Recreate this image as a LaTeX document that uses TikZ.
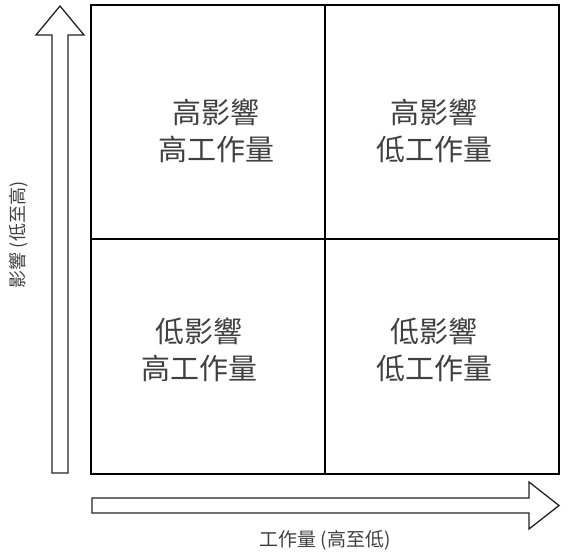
\documentclass[tikz,border=0pt]{standalone}
\usepackage{fontspec}
\newfontfamily\cjk{Noto Sans CJK TC}
\usepackage{tikz}
\usetikzlibrary{positioning}
\usetikzlibrary{calc}
\definecolor{textgray}{HTML}{404040}
\definecolor{arrowgray}{HTML}{222222}

\begin{document}
\begin{tikzpicture}[
    x=1pt, y=-1pt,
    quad text/.style={
        font=\cjk\fontsize{29}{37}\selectfont,
        text=textgray,
        align=center
    },
    axis label/.style={
        font=\cjk\fontsize{18}{22}\selectfont,
        text=textgray
    },
    grid line/.style={line width=1.4pt, draw=black},
    fat arrow/.style={line width=1.3pt, draw=arrowgray, line join=miter}
  ]

  \useasboundingbox (0,0) rectangle (568,558);

  \coordinate (grid_tl) at (91, 5);
  \coordinate (grid_br) at (559, 474);

  \coordinate (mid_top) at (325, 5);
  \coordinate (mid_bot) at (325, 474);
  \coordinate (mid_left) at (91, 239);
  \coordinate (mid_right) at (559, 239);

  \draw[grid line] (grid_tl) rectangle (grid_br);
  \draw[grid line] (mid_top) -- (mid_bot);
  \draw[grid line] (mid_left) -- (mid_right);

  \node[quad text] (hi_hi) at (216, 131) {高影響\\高工作量};
  \node[quad text] (hi_lo) at (434, 131) {高影響\\低工作量};
  \node[quad text] (lo_hi) at (199, 350) {低影響\\高工作量};
  \node[quad text] (lo_lo) at (434, 350) {低影響\\低工作量};

  % impact axis
  \coordinate (up_tip) at (60, 6);
  \draw[fat arrow] (52, 473) -- (52, 35) -- (36, 35) -- (up_tip)
    -- (84, 35) -- (68, 35) -- (68, 473) -- cycle;
  \node[axis label, rotate=90] (impact_label) at (19, 235) {影響 (低至高)};

  % effort axis
  \coordinate (right_tip) at (559, 505.5);
  \draw[fat arrow] (92, 498) -- (529, 498) -- (529, 482) -- (right_tip)
    -- (529, 529) -- (529, 513) -- (92, 513) -- cycle;
  \node[axis label, font=\cjk\fontsize{19}{23}\selectfont] (effort_label) at (325, 540) {工作量 (高至低)};

\end{tikzpicture}
\end{document}
